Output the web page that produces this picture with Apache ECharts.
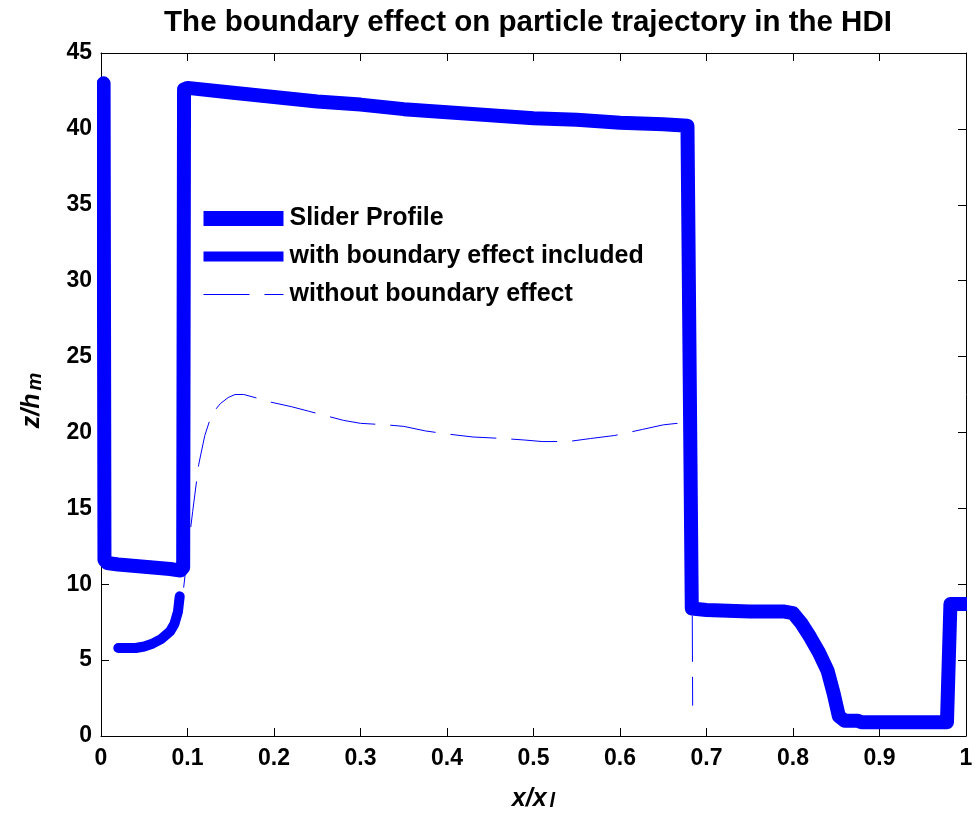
<!DOCTYPE html>
<html>
<head>
<meta charset="utf-8">
<script src="https://cdn.jsdelivr.net/npm/echarts@6/dist/echarts.min.js"></script>
<style>
  html, body { margin: 0; padding: 0; background: #fff; }
  #main { width: 977px; height: 818px; }
</style>
</head>
<body>
<div id="main"></div>
<script>
// slider profile
var sliderX = [0.003, 0.004, 0.007, 0.02, 0.04, 0.06, 0.08, 0.092, 0.095, 0.096, 0.1, 0.15, 0.2, 0.25, 0.3, 0.35, 0.4, 0.45, 0.5, 0.55, 0.6, 0.65, 0.678,
               0.683, 0.685, 0.7, 0.75, 0.79, 0.8, 0.81, 0.82, 0.83, 0.84, 0.847, 0.853, 0.86, 0.875, 0.88, 0.9, 0.95, 0.978, 0.982, 0.985, 1.0];
var sliderY = [43.0, 11.6, 11.4, 11.3, 11.2, 11.1, 11.0, 10.9, 11.1, 42.6, 42.7, 42.4, 42.1, 41.8, 41.6, 41.3, 41.1, 40.9, 40.7, 40.6, 40.4, 40.3, 40.2,
               8.4, 8.3, 8.3, 8.2, 8.2, 8.1, 7.4, 6.5, 5.5, 4.3, 2.8, 1.3, 1.0, 1.0, 0.9, 0.9, 0.9, 0.9, 8.7, 8.7, 8.7];

// trajectory with boundary effect included
var withX = [0.02, 0.03, 0.04, 0.05, 0.06, 0.07, 0.08, 0.085, 0.089, 0.091];
var withY = [5.8, 5.8, 5.8, 5.9, 6.1, 6.4, 6.9, 7.4, 8.2, 9.2];

// trajectory without boundary effect
var noX = [0.07, 0.08, 0.087, 0.091, 0.095, 0.1, 0.106, 0.113, 0.12, 0.128, 0.138, 0.147, 0.155, 0.165, 0.178, 0.196, 0.22, 0.24, 0.26, 0.28, 0.3,
           0.33, 0.35, 0.375, 0.4, 0.43, 0.465, 0.49, 0.51, 0.54, 0.566, 0.594, 0.626, 0.65, 0.666, 0.674, 0.68, 0.683, 0.684];
var noY = [6.3, 6.7, 7.0, 7.8, 9.5, 12.0, 14.8, 17.9, 19.8, 21.2, 21.9, 22.3, 22.5, 22.5, 22.3, 22.0, 21.7, 21.4, 21.1, 20.8, 20.6,
           20.5, 20.4, 20.1, 19.9, 19.7, 19.6, 19.5, 19.4, 19.4, 19.6, 19.8, 20.2, 20.5, 20.6, 20.4, 19.8, 15.0, 2.0];

var seriesNames = ['Slider Profile', 'with boundary effect included', 'without boundary effect'];

function pairs(xs, ys) {
    var out = [];
    for (var i = 0; i < xs.length; i++) out.push([xs[i], ys[i]]);
    return out;
}

var FONT = "'Liberation Sans', Arial, sans-serif";
var BLUE = '#0000ff';

var myChart = echarts.init(document.getElementById('main'));

var axisCommon = {
    axisLine: { show: true, onZero: false, lineStyle: { color: '#000', width: 1 } },
    axisTick: { show: true, inside: true, length: 8, lineStyle: { color: '#000' } },
    splitLine: { show: false }
};

var nameRich = {
    a: { fontFamily: FONT, fontSize: 25, fontWeight: 'bold', fontStyle: 'italic', color: '#000', lineHeight: 25, verticalAlign: 'top' },
    s: { fontFamily: FONT, fontSize: 20, fontWeight: 'bold', fontStyle: 'italic', color: '#000', lineHeight: 20, verticalAlign: 'bottom', padding: [17, 0, 0, 3] }
};

var option = {
    animation: false,
    backgroundColor: '#fff',
    title: {
        text: 'The boundary effect on particle trajectory in the HDI',
        left: 523,
        textAlign: 'center',
        top: 3,
        textStyle: { fontFamily: FONT, fontSize: 29.5, fontWeight: 'bold', color: '#000' }
    },
    legend: {
        orient: 'vertical',
        left: 196,
        top: 206,
        padding: 0,
        itemWidth: 80,
        itemHeight: 16,
        itemGap: 13,
        textStyle: { fontFamily: FONT, fontSize: 25, fontWeight: 'bold', color: '#000', padding: [0, 0, 0, 1] },
        data: [
            { name: seriesNames[0], itemStyle: { opacity: 0 }, lineStyle: { width: 15, cap: 'butt' } },
            { name: seriesNames[1], itemStyle: { opacity: 0 }, lineStyle: { width: 10, cap: 'butt' } },
            { name: seriesNames[2], itemStyle: { opacity: 0 }, lineStyle: { width: 1, type: [46, 15], cap: 'butt' } }
        ]
    },
    grid: { left: 97, right: 11, top: 53, bottom: 82 },
    xAxis: [
        Object.assign({
            type: 'value', min: 0, max: 1, interval: 0.1, position: 'bottom',
            name: '{a|x/x}{s|l}',
            nameLocation: 'middle',
            nameGap: 50,
            nameTextStyle: { rich: nameRich },
            axisLabel: { margin: 11, fontFamily: FONT, fontSize: 23, fontWeight: 'bold', color: '#000' }
        }, axisCommon),
        Object.assign({
            type: 'value', min: 0, max: 1, interval: 0.1, position: 'top',
            axisLabel: { show: false }
        }, axisCommon)
    ],
    yAxis: [
        Object.assign({
            type: 'value', min: 0, max: 45, interval: 5, position: 'left',
            name: '{a|z/h}{s|m}',
            nameLocation: 'middle',
            nameRotate: 90,
            nameGap: 56,
            nameTextStyle: { rich: nameRich, padding: [0, 12, 0, 0] },
            axisLabel: { margin: 9, fontFamily: FONT, fontSize: 23, fontWeight: 'bold', color: '#000' }
        }, axisCommon),
        Object.assign({
            type: 'value', min: 0, max: 45, interval: 5, position: 'right',
            axisLabel: { show: false }
        }, axisCommon)
    ],
    // narrow white strips just outside the plot frame, trimming the thick line ends as axes clipping does
    graphic: [
        { type: 'rect', shape: { x: 91, y: 60, width: 6, height: 660 }, style: { fill: '#fff' }, z: 50 },
        { type: 'rect', shape: { x: 967, y: 560, width: 10, height: 100 }, style: { fill: '#fff' }, z: 50 }
    ],
    series: [
        {
            name: seriesNames[0],
            type: 'line',
            symbol: 'none',
            clip: true,
            color: BLUE,
            lineStyle: { color: BLUE, width: 14, cap: 'round', join: 'round' },
            data: pairs(sliderX, sliderY)
        },
        {
            name: seriesNames[1],
            type: 'line',
            symbol: 'none',
            clip: true,
            color: BLUE,
            lineStyle: { color: BLUE, width: 10, cap: 'round', join: 'round' },
            data: pairs(withX, withY)
        },
        {
            name: seriesNames[2],
            type: 'line',
            symbol: 'none',
            clip: true,
            color: BLUE,
            lineStyle: { color: BLUE, width: 1, type: [46, 15] },
            data: pairs(noX, noY)
        }
    ]
};

myChart.setOption(option);
</script>
</body>
</html>
